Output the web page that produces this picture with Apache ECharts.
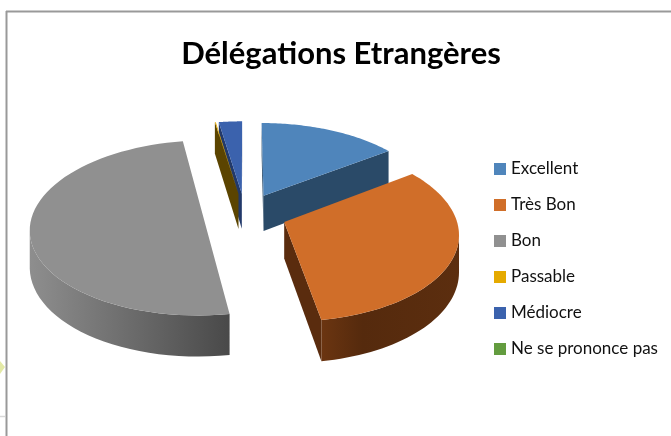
<!DOCTYPE html>
<html>
<head>
<meta charset="utf-8">
<style>
  html, body { margin: 0; padding: 0; background: #fff; }
  #chart { width: 671px; height: 436px; }
</style>
<script src="https://cdn.jsdelivr.net/npm/echarts@6/dist/echarts.min.js"></script>
</head>
<body>
<div id="chart"></div>
<script>
const categories = ['Excellent', 'Très Bon', 'Bon', 'Passable', 'Médiocre', 'Ne se prononce pas']
const values = [15, 32.4, 50, 0.1, 2.5, 0]
const colors = ['#4f85bb', '#d06e29', '#909090', '#e5aa00', '#3b62ad', '#639c3f']
const wallColors = ['#2a4a68', '#5a2c0e', '#4a4a4a', '#5b4400', '#22396a', '#3a5c25']

// the order the wedges are painted in, back to front
const paintOrder = [4, 3, 0, 2, 1, 5]

// shape of the tilted pie
const cx = 245, cy = 214, R = 171, tilt = 0.5, persp = 0.119, depth = 36, explode = 0.245

const total = values.reduce((a, b) => a + b, 0)

const project = function (x, y, drop) {
  const s = 1 / (1 - persp * y)
  return [cx + R * x * s, cy + R * tilt * y * s + drop * s]
}

const faces = function (x, y, nx, ny) {
  // is this wall turned to the viewer
  return (0 - x) * nx + (1 / persp - y) * ny > 0
}

const rimGradients = {
  1: [[0, '#6b3511'], [0.3, '#552a0d'], [1, '#5c2e0f']],
  2: [[0, '#8e8e8e'], [0.5, '#6c6c6c'], [1, '#494949']],
}

const drawWedge = function (index) {
  if (values[index] === 0) return []
  let before = 0
  for (let i = 0; i < index; i++) before += values[i]
  const a0 = before / total * Math.PI * 2
  const a1 = (before + values[index]) / total * Math.PI * 2
  const mid = (a0 + a1) / 2
  const ox = explode * Math.sin(mid), oy = -explode * Math.cos(mid)

  const rim = []
  const steps = 60
  for (let i = 0; i <= steps; i++) {
    const a = a0 + (a1 - a0) * i / steps
    rim.push({a: a, x: ox + Math.sin(a), y: oy - Math.cos(a)})
  }

  const children = []
  const wall = function (x0, y0, x1, y1, nx, ny) {
    if (!faces((x0 + x1) / 2, (y0 + y1) / 2, nx, ny)) return
    children.push({
      type: 'polygon',
      shape: {points: [project(x0, y0, 0), project(x1, y1, 0), project(x1, y1, depth), project(x0, y0, depth)]},
      style: {fill: wallColors[index]},
    })
  }
  const first = rim[0], last = rim[steps]
  wall(ox, oy, first.x, first.y, Math.sin(a0 - Math.PI / 2), -Math.cos(a0 - Math.PI / 2))
  wall(ox, oy, last.x, last.y, Math.sin(a1 + Math.PI / 2), -Math.cos(a1 + Math.PI / 2))

  const seen = rim.filter((p) => faces(p.x, p.y, Math.sin(p.a), -Math.cos(p.a)))
  if (seen.length > 1) {
    const upper = seen.map((p) => project(p.x, p.y, 0))
    const lower = seen.map((p) => project(p.x, p.y, depth)).reverse()
    children.push({
      type: 'polygon',
      shape: {points: upper.concat(lower)},
      style: {
        fill: rimGradients[index]
          ? new echarts.graphic.LinearGradient(0, 0, 1, 0, rimGradients[index].map((s) => ({offset: s[0], color: s[1]})))
          : wallColors[index],
      },
    })
  }

  const top = [project(ox, oy, 0)].concat(rim.map((p) => project(p.x, p.y, 0)))
  children.push({type: 'polygon', shape: {points: top}, style: {fill: colors[index]}})
  return children
}

const chart = echarts.init(document.getElementById('chart'), null, {renderer: 'canvas'})

chart.setOption({
  animation: false,
  title: {
    text: 'Délégations Etrangères',
    left: 336,
    top: 33,
    textAlign: 'center',
    textStyle: {fontFamily: 'Lato', fontWeight: 'bold', fontSize: 31, color: '#000'},
  },
  legend: {
    orient: 'vertical',
    left: 494,
    top: 160,
    padding: 0,
    itemWidth: 12,
    itemHeight: 12,
    itemGap: 18,
    icon: 'rect',
    selectedMode: false,
    data: categories,
    textStyle: {fontFamily: 'Lato', fontSize: 17, color: '#111', lineHeight: 18},
  },
  graphic: [
    {type: 'line', shape: {x1: 6.5, y1: 11, x2: 6.5, y2: 436}, style: {stroke: '#999', lineWidth: 2}, silent: true},
    {type: 'line', shape: {x1: 6, y1: 11.5, x2: 671, y2: 11.5}, style: {stroke: '#999', lineWidth: 2}, silent: true},
    {type: 'polygon', shape: {points: [[0, 361], [5, 367], [0, 374]]}, style: {fill: '#e3e9a6'}, silent: true},
    {type: 'line', shape: {x1: 0, y1: 416.5, x2: 5, y2: 416.5}, style: {stroke: '#d8d8d8', lineWidth: 1.5}, silent: true},
  ],
  series: paintOrder.map((index) => ({
    type: 'custom',
    name: categories[index],
    coordinateSystem: 'none',
    z: 2 + paintOrder.indexOf(index),
    itemStyle: {color: colors[index]},
    data: [[values[index]]],
    renderItem: function () {
      return {type: 'group', children: drawWedge(index)}
    },
  })),
})
</script>
</body>
</html>
